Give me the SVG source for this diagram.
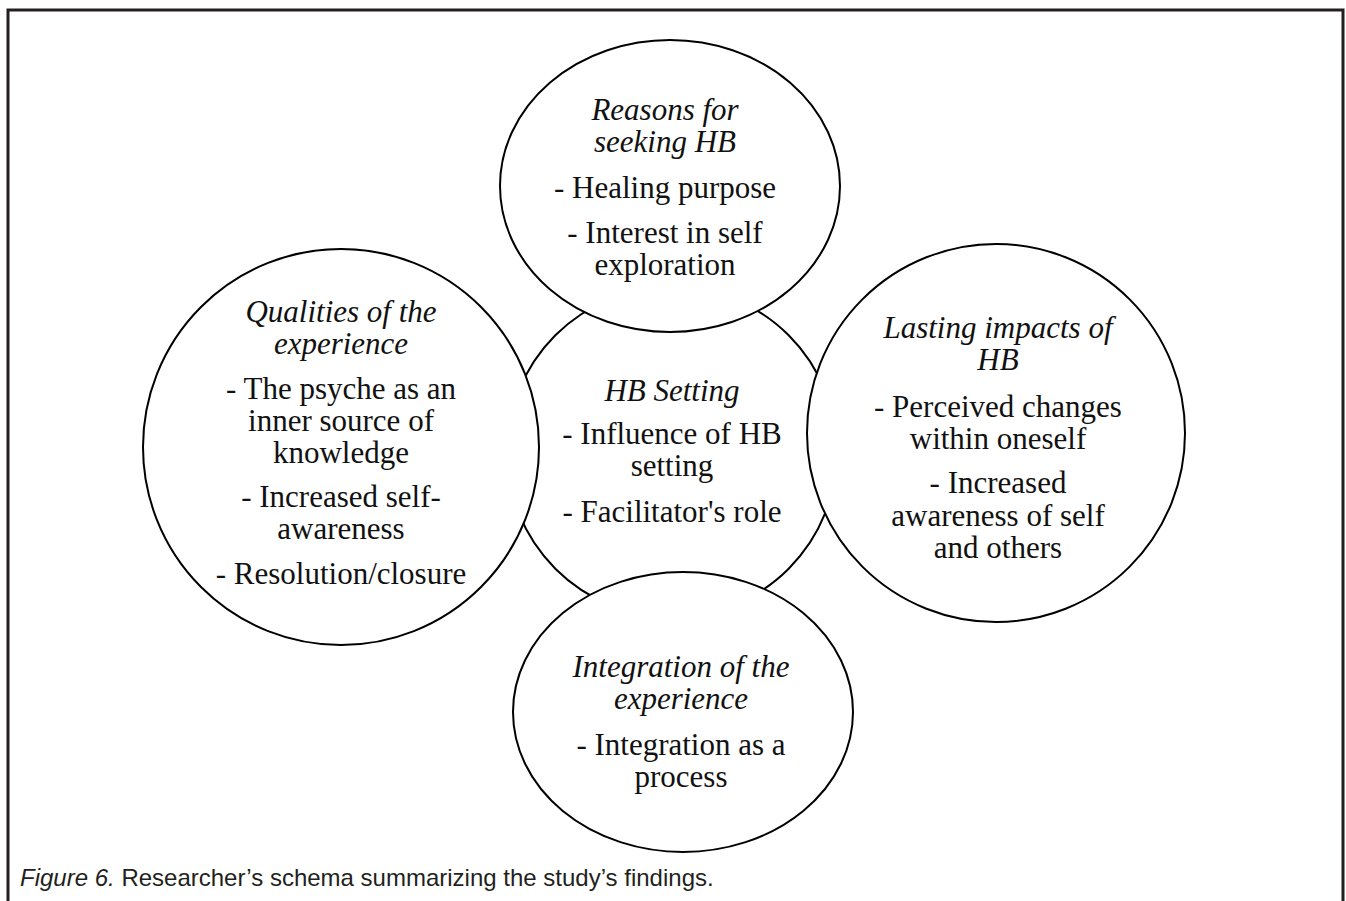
<svg xmlns="http://www.w3.org/2000/svg" width="1346" height="901" viewBox="0 0 1346 901">
<style>
.c{fill:#fff;stroke:#000;stroke-width:2}
.t{font-family:"Liberation Serif","Times New Roman",serif;font-size:31px;fill:#111;text-anchor:middle}
.i{font-style:italic}
.cap{font-family:"Liberation Sans",Arial,sans-serif;font-size:24px;fill:#231f20}
</style>
<rect width="1346" height="901" fill="#fff"/>
<path d="M8,901 V10 H1343 V901" fill="none" stroke="#231f20" stroke-width="3"/>
<g id="connectors"></g>
<g id="center">
<circle class="c" cx="672" cy="452" r="165"/>
<text class="t i" x="672" y="401">HB Setting</text>
<text class="t" x="672" y="444">- Influence of HB</text>
<text class="t" x="672" y="476">setting</text>
<text class="t" x="672" y="522">- Facilitator's role</text>
</g>
<g id="top">
<ellipse class="c" cx="670" cy="186" rx="170" ry="146"/>
<text class="t i" x="665" y="120">Reasons for</text>
<text class="t i" x="665" y="152">seeking HB</text>
<text class="t" x="665" y="198">- Healing purpose</text>
<text class="t" x="665" y="243">- Interest in self</text>
<text class="t" x="665" y="275">exploration</text>
</g>
<g id="left">
<circle class="c" cx="341" cy="447" r="198"/>
<text class="t i" x="341" y="322">Qualities of the</text>
<text class="t i" x="341" y="354">experience</text>
<text class="t" x="341" y="399">- The psyche as an</text>
<text class="t" x="341" y="431">inner source of</text>
<text class="t" x="341" y="463">knowledge</text>
<text class="t" x="341" y="507">- Increased self-</text>
<text class="t" x="341" y="539">awareness</text>
<text class="t" x="341" y="584">- Resolution/closure</text>
</g>
<g id="right">
<circle class="c" cx="996" cy="433" r="189"/>
<text class="t i" x="998" y="338">Lasting impacts of</text>
<text class="t i" x="998" y="370">HB</text>
<text class="t" x="998" y="417">- Perceived changes</text>
<text class="t" x="998" y="449">within oneself</text>
<text class="t" x="998" y="493">- Increased</text>
<text class="t" x="998" y="526">awareness of self</text>
<text class="t" x="998" y="558">and others</text>
</g>
<g id="bottom">
<ellipse class="c" cx="683" cy="712" rx="170" ry="140"/>
<text class="t i" x="681" y="677">Integration of the</text>
<text class="t i" x="681" y="709">experience</text>
<text class="t" x="681" y="755">- Integration as a</text>
<text class="t" x="681" y="787">process</text>
</g>
<g id="caption">
<text class="cap" x="20" y="886"><tspan font-style="italic">Figure 6.</tspan> Researcher’s schema summarizing the study’s findings.</text>
</g>
</svg>
